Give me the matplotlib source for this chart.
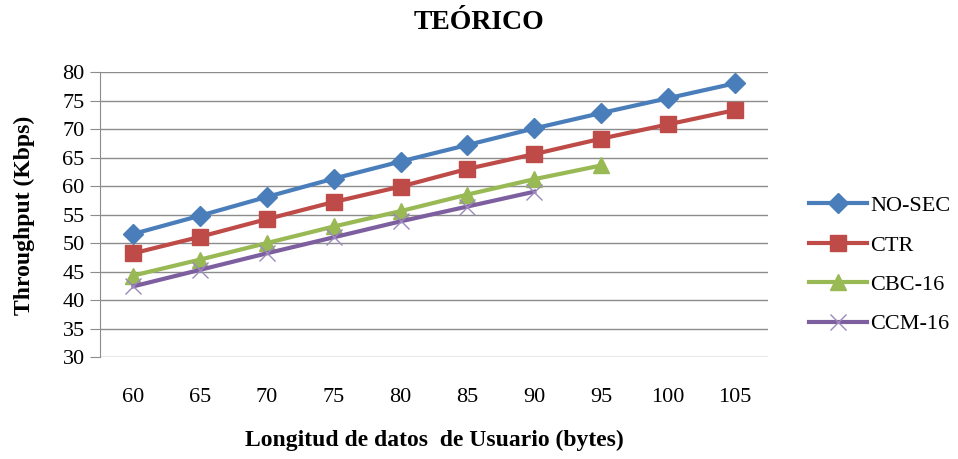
import matplotlib
matplotlib.use("Agg")
import matplotlib.pyplot as plt

categories = ["60", "65", "70", "75", "80", "85", "90", "95", "100", "105"]
no_sec = [51.6, 54.8, 58.1, 61.3, 64.3, 67.2, 70.1, 72.8, 75.4, 78.0]
ctr = [48.2, 51.1, 54.2, 57.2, 59.9, 63.0, 65.6, 68.3, 70.8, 73.3]
cbc16 = [44.3, 47.1, 50.0, 52.9, 55.6, 58.5, 61.2, 63.6]
ccm16 = [42.4, 45.3, 48.2, 51.0, 53.8, 56.4, 59.0]
yticks = [30, 35, 40, 45, 50, 55, 60, 65, 70, 75, 80]

plt.rcParams['font.family'] = ['Liberation Serif', 'DejaVu Serif']

fig = plt.figure(figsize=(9.58, 4.59), dpi=100)
ax = fig.add_axes([0.1044, 0.2222, 0.6973, 0.6209])

series = [
    ("NO-SEC", no_sec, "#4A7EBB", "D", 10.5),
    ("CTR", ctr, "#BE4B48", "s", 12),
    ("CBC-16", cbc16, "#98B954", "^", 12),
    ("CCM-16", ccm16, "#7D5FA0", "x", 11),
]
for name, vals, col, mk, ms in series:
    x = list(range(len(vals)))
    kw = dict(color=col, lw=3, marker=mk, markersize=ms, label=name)
    if mk == "x":
        kw.update(markeredgewidth=1, markeredgecolor="#9C88BC")
    else:
        kw.update(markeredgecolor=col)
    ax.plot(x, vals, **kw)

ax.set_xlim(-0.5, len(categories) - 0.5)
ax.set_ylim(30, 80)
ax.set_yticks(yticks)
ax.set_xticks(range(len(categories)))
ax.set_xticklabels(categories)
ax.grid(axis='y', color='#8C8C8C', lw=1)
ax.set_axisbelow(True)
for s in ['top', 'right', 'bottom']:
    ax.spines[s].set_visible(False)
ax.spines['left'].set_color('#8C8C8C')
ax.tick_params(axis='y', length=7, color='#8C8C8C', labelsize=16, pad=4)
ax.tick_params(axis='x', length=0, labelsize=16, pad=22)

fig.text(0.5, 0.952, "TEÓRICO", ha='center', va='center', fontsize=20, fontweight='bold')
fig.text(0.025, 0.53, "Throughput (Kbps)", rotation=90, ha='center', va='center', fontsize=17, fontweight='bold')
fig.text(0.453, 0.04, "Longitud de datos  de Usuario (bytes)", ha='center', va='center', fontsize=17, fontweight='bold')

leg = ax.legend(loc='center left', bbox_to_anchor=(1.048, 0.323), frameon=False, fontsize=16,
                handlelength=2.6, labelspacing=0.85, handletextpad=0.15, borderaxespad=0)

fig.savefig("out.png", dpi=100)
